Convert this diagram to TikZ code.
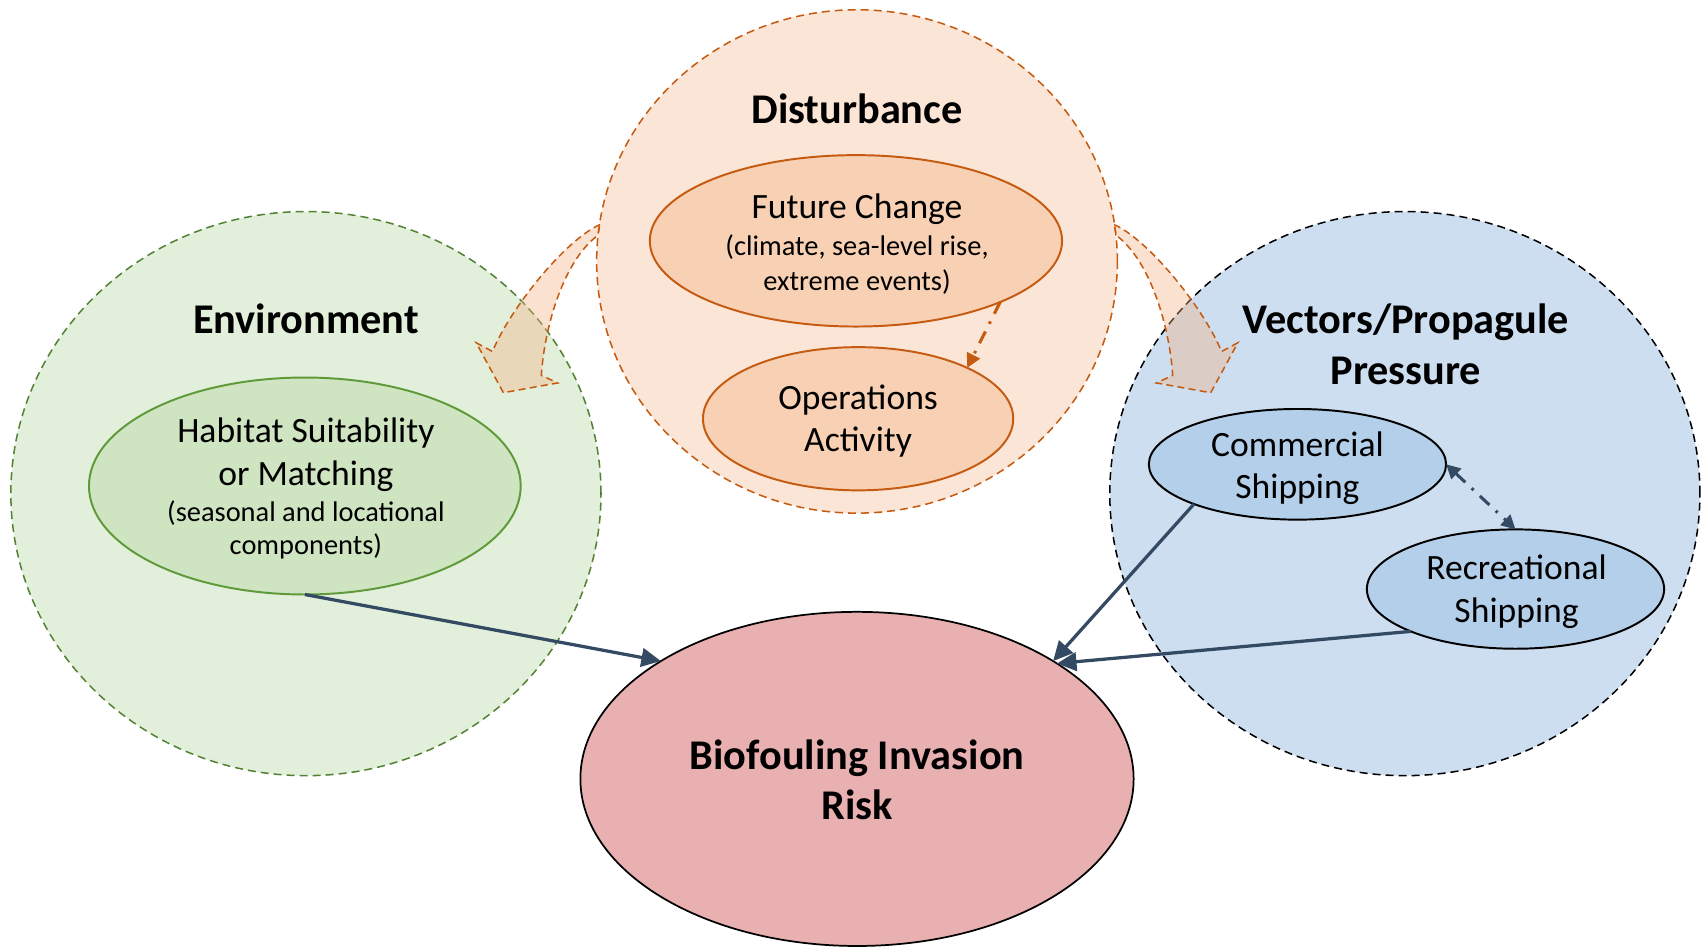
\documentclass[tikz,border=0pt]{standalone}
\usepackage{fontspec}
\setmainfont{Carlito}
\usetikzlibrary{arrows.meta,shapes.geometric}
\definecolor{distfill}{HTML}{FBE5D6}
\definecolor{orline}{HTML}{C55A11}
\definecolor{orin}{HTML}{F8D0B4}
\definecolor{envfill}{HTML}{E2EFDA}
\definecolor{envline}{HTML}{548235}
\definecolor{habfill}{HTML}{CFE4C0}
\definecolor{habline}{HTML}{5E9A3A}
\definecolor{vecfill}{HTML}{CCDEF0}
\definecolor{shipfill}{HTML}{B4CFEA}
\definecolor{biofill}{HTML}{E8B0B1}
\definecolor{arr}{HTML}{344A63}
\definecolor{blockfill}{HTML}{F4B183}
\begin{document}
\begin{tikzpicture}[x=0.5pt,y=-0.5pt,
  oval/.style={ellipse, inner sep=0pt, outer sep=0pt},
  bigdash/.style={line width=0.7pt, dash pattern=on 3.7pt off 2.3pt},
  ttl/.style={anchor=base, inner sep=0pt, font=\fontsize{19.5}{23.5}\selectfont\bfseries},
  lbl/.style={anchor=base, inner sep=0pt, font=\fontsize{16.4}{19.5}\selectfont},
  sml/.style={anchor=base, inner sep=0pt, font=\fontsize{13.1}{16}\selectfont},
  conn/.style={draw=arr, line width=1.5pt, -{Triangle[length=9pt,width=8.5pt]}},
  dashdot/.style={line width=1.4pt, dash pattern=on 6pt off 4pt on 1.2pt off 4pt},
  blockarrow/.style={fill=blockfill, fill opacity=0.38, draw=orline, draw opacity=1, line width=0.7pt, dash pattern=on 3.2pt off 2pt, line join=miter}
]
\useasboundingbox (0,0) rectangle (1568,873);
% big circles
\node[oval, fill=envfill, draw=envline, bigdash, minimum width=272pt, minimum height=260pt] (env) at (282,455) {};
\node[oval, fill=vecfill, draw=black, bigdash, minimum width=272pt, minimum height=260pt] (vec) at (1295,455) {};
\node[oval, fill=distfill, draw=orline, bigdash, minimum width=240pt, minimum height=232pt] (dist) at (790,241) {};
\node[oval, fill=biofill, draw=black, line width=0.8pt, minimum width=255pt, minimum height=154pt] (bio) at (790,718) {};
% inner ellipses
\node[oval, fill=orin, draw=orline, line width=0.9pt, minimum width=190pt, minimum height=79pt] (fc) at (789,222) {};
\node[oval, fill=orin, draw=orline, line width=0.9pt, minimum width=143pt, minimum height=66pt] (ops) at (791,386) {};
\node[oval, fill=habfill, draw=habline, line width=0.9pt, minimum width=199pt, minimum height=100pt] (hab) at (281,448) {};
\node[oval, fill=shipfill, draw=black, line width=0.9pt, minimum width=137pt, minimum height=51pt] (com) at (1196,428) {};
\node[oval, fill=shipfill, draw=black, line width=0.9pt, minimum width=137pt, minimum height=55pt] (rec) at (1397,543) {};
% curved block arrows
\path[blockarrow] (553,207) .. controls (520,222) and (470,285) .. (454,324)
  -- (439,316) -- (464,362) -- (514,353) -- (499,346)
  .. controls (502,300) and (520,240) .. (551,217) -- cycle;
\path[blockarrow] (1027,207) .. controls (1060,222) and (1110,285) .. (1126,324)
  -- (1141,316) -- (1116,362) -- (1066,353) -- (1081,346)
  .. controls (1078,300) and (1060,240) .. (1029,217) -- cycle;
% texts
\node[ttl] (tdist) at (790,113.5) {Disturbance};
\node[lbl] (tfc1) at (790,201.5) {Future Change};
\node[sml] (tfc2) at (790,235.5) {(climate, sea-level rise,};
\node[sml] (tfc3) at (790,267.5) {extreme events)};
\node[lbl] (tops1) at (791,377.5) {Operations};
\node[lbl] (tops2) at (791,416.5) {Activity};
\node[ttl] (tenv) at (282,307.5) {Environment};
\node[lbl] (thab1) at (282,407.5) {Habitat Suitability};
\node[lbl] (thab2) at (282,447.5) {or Matching};
\node[sml] (thab3) at (282,480.5) {(seasonal and locational};
\node[sml] (thab4) at (282,511.5) {components)};
\node[ttl] (tvec1) at (1296,307.5) {Vectors/Propagule};
\node[ttl] (tvec2) at (1296,354.5) {Pressure};
\node[lbl] (tcom1) at (1196,420.5) {Commercial};
\node[lbl] (tcom2) at (1196,459.5) {Shipping};
\node[lbl] (trec1) at (1398,534.5) {Recreational};
\node[lbl] (trec2) at (1398,573.5) {Shipping};
\node[ttl] (tbio1) at (790,709.5) {Biofouling Invasion};
\node[ttl] (tbio2) at (790,755.5) {Risk};
% connectors
\draw[conn] (hab.south) -- (bio.149);
\draw[conn] (com.201) -- (bio.31);
\draw[conn] (rec.202) -- (bio.30);
\draw[draw=orline, dashdot, -{Triangle[length=6.5pt,width=6.5pt]}] (fc.-23) -- (ops.25);
\draw[draw=arr, dashdot, {Triangle[length=6.5pt,width=6.5pt]}-{Triangle[length=6.5pt,width=6.5pt]}] (com.east) -- (rec.north);
\end{tikzpicture}
\end{document}
